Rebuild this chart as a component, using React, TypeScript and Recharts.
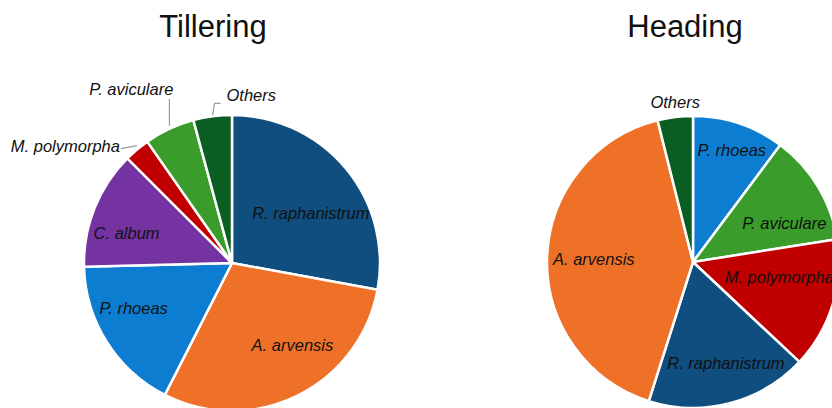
import React from "react";
import { PieChart, Pie, Cell } from "recharts";

// Tillering, clockwise from 12 o'clock (% of weeds)
const TILLERING_NAMES = [
	"R. raphanistrum",
	"A. arvensis",
	"P. rhoeas",
	"C. album",
	"M. polymorpha",
	"P. aviculare",
	"Others",
];
const TILLERING_VALUES = [27.9, 29.6, 17.1, 12.9, 2.8, 5.5, 4.2];

// Heading, clockwise from 12 o'clock
const HEADING_NAMES = [
	"P. rhoeas",
	"P. aviculare",
	"M. polymorpha",
	"R. raphanistrum",
	"A. arvensis",
	"Others",
];
const HEADING_VALUES = [10.2, 12.3, 14.5, 17.9, 41.2, 3.9];

const COLORS: Record<string, string> = {
	"R. raphanistrum": "#0f4e7e",
	"A. arvensis": "#ef7128",
	"P. rhoeas": "#0c7dd0",
	"C. album": "#7433a0",
	"M. polymorpha": "#c00000",
	"P. aviculare": "#3a9c2a",
	Others: "#0b5e22",
};

const FONT = "'Liberation Sans', Arial, sans-serif";
const RAD = Math.PI / 180;

type LabelCfg =
	| { kind: "inside"; shift: number; r: number }
	| {
			kind: "outside";
			path: [number, number][];
			anchor: "start" | "middle" | "end";
			tx: number;
			ty: number;
	  };

const TILLERING_LABELS: Record<string, LabelCfg> = {
	"R. raphanistrum": { kind: "inside", shift: -7.5, r: 0.63 },
	"A. arvensis": { kind: "inside", shift: 10, r: 0.69 },
	"P. rhoeas": { kind: "inside", shift: -7.8, r: 0.73 },
	"C. album": { kind: "inside", shift: 6, r: 0.74 },
	"M. polymorpha": {
		kind: "outside",
		path: [[0, -4], [-16, -1]],
		anchor: "end",
		tx: -17,
		ty: 2,
	},
	"P. aviculare": {
		kind: "outside",
		path: [[0, -3], [0, -30]],
		anchor: "end",
		tx: 4,
		ty: -34,
	},
	Others: {
		kind: "outside",
		path: [[0, -1], [2, -13], [8, -13]],
		anchor: "start",
		tx: 14,
		ty: -15,
	},
};

const HEADING_LABELS: Record<string, LabelCfg> = {
	"P. rhoeas": { kind: "inside", shift: -0.8, r: 0.81 },
	"P. aviculare": { kind: "inside", shift: -8, r: 0.68 },
	"M. polymorpha": { kind: "inside", shift: 7, r: 0.6 },
	"R. raphanistrum": { kind: "inside", shift: 3.4, r: 0.73 },
	"A. arvensis": { kind: "inside", shift: 0, r: 0.68 },
	Others: { kind: "outside", path: [], anchor: "middle", tx: 0, ty: -9 },
};

const makeLabel = (cfgs: Record<string, LabelCfg>) => (props: any) => {
	const { cx, cy, midAngle, outerRadius } = props;
	const name: string = props.name ?? props.payload?.name;
	const cfg = cfgs[name];
	if (!cfg) return null;
	const textStyle = {
		fontFamily: FONT,
		fontSize: 16.5,
		fontStyle: "italic" as const,
		fill: "#111",
	};
	if (cfg.kind === "inside") {
		const a = (midAngle + cfg.shift) * RAD;
		const x = cx + outerRadius * cfg.r * Math.cos(a);
		const y = cy - outerRadius * cfg.r * Math.sin(a);
		return (
			<text x={x} y={y} textAnchor="middle" dominantBaseline="central" style={textStyle}>
				{name}
			</text>
		);
	}
	const ex = cx + outerRadius * Math.cos(midAngle * RAD);
	const ey = cy - outerRadius * Math.sin(midAngle * RAD);
	const d = cfg.path.length
		? "M" + cfg.path.map(([dx, dy]) => `${ex + dx},${ey + dy}`).join(" L")
		: "";
	return (
		<g>
			{d && <path d={d} stroke="#9a9a9a" strokeWidth={1.2} fill="none" />}
			<text x={ex + cfg.tx} y={ey + cfg.ty} textAnchor={cfg.anchor} style={textStyle}>
				{name}
			</text>
		</g>
	);
};

const tilleringData = TILLERING_NAMES.map((name, i) => ({ name, value: TILLERING_VALUES[i] }));
const headingData = HEADING_NAMES.map((name, i) => ({ name, value: HEADING_VALUES[i] }));

const titleStyle: React.CSSProperties = {
	position: "absolute",
	top: 7,
	fontFamily: FONT,
	fontSize: 31,
	color: "#111",
	width: 300,
	textAlign: "center",
	margin: 0,
	lineHeight: "40px",
};

export default function App() {
	return (
		<div
			style={{
				position: "absolute",
				left: 0,
				top: 0,
				width: 832,
				height: 408,
				overflow: "hidden",
				background: "#fff",
			}}
		>
			<div style={{ ...titleStyle, left: 213 - 150 }}>Tillering</div>
			<div style={{ ...titleStyle, left: 685 - 150 }}>Heading</div>
			<PieChart
				width={832}
				height={408}
				margin={{ top: 0, right: 0, bottom: 0, left: 0 }}
				style={{ position: "absolute", left: 0, top: 0 }}
			>
				<Pie
					data={tilleringData}
					dataKey="value"
					nameKey="name"
					cx={232}
					cy={263}
					outerRadius={148}
					startAngle={90}
					endAngle={-270}
					stroke="#fff"
					strokeWidth={2.5}
					label={makeLabel(TILLERING_LABELS)}
					labelLine={false}
					isAnimationActive={false}
				>
					{tilleringData.map((d) => (
						<Cell key={d.name} fill={COLORS[d.name]} />
					))}
				</Pie>
				<Pie
					data={headingData}
					dataKey="value"
					nameKey="name"
					cx={693}
					cy={262}
					outerRadius={146}
					startAngle={90}
					endAngle={-270}
					stroke="#fff"
					strokeWidth={2.5}
					label={makeLabel(HEADING_LABELS)}
					labelLine={false}
					isAnimationActive={false}
				>
					{headingData.map((d) => (
						<Cell key={d.name} fill={COLORS[d.name]} />
					))}
				</Pie>
			</PieChart>
		</div>
	);
}
